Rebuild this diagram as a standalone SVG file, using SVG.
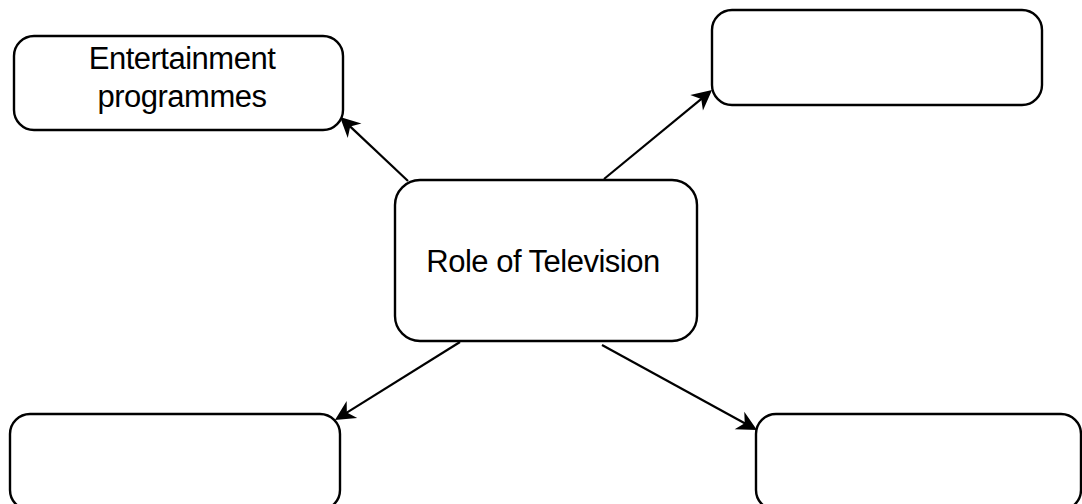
<svg xmlns="http://www.w3.org/2000/svg" width="1082" height="504" viewBox="0 0 1082 504">
<style>
.box{fill:#fff;stroke:#000;stroke-width:2.4}
.lbl{font-family:"Liberation Sans",Arial,sans-serif;font-size:31px;letter-spacing:-0.5px;fill:#000;text-anchor:middle}
.edge{stroke:#000;stroke-width:2.2;fill:none}
</style>
<defs>
<marker id="arr" markerUnits="userSpaceOnUse" markerWidth="26" markerHeight="26" refX="7" refY="10" orient="auto" overflow="visible">
<path d="M20,10 L0,0 L6,10 L0,20 Z" fill="#000"/>
</marker>
</defs>
<g id="connectors">
<line class="edge" x1="408" y1="181" x2="349.5" y2="125.9" marker-end="url(#arr)"/>
<line class="edge" x1="604" y1="179" x2="702" y2="98.3" marker-end="url(#arr)"/>
<line class="edge" x1="460" y1="342" x2="346" y2="413.1" marker-end="url(#arr)"/>
<line class="edge" x1="602" y1="345" x2="745.6" y2="423.8" marker-end="url(#arr)"/>
</g>
<g id="node-entertainment">
<rect class="box" x="14" y="36" width="329" height="94" rx="20" ry="20"/>
<text class="lbl" x="182" y="69">Entertainment</text>
<text class="lbl" x="182" y="107">programmes</text>
</g>
<g id="node-top-right">
<rect class="box" x="712" y="10" width="330" height="95" rx="20" ry="20"/>
</g>
<g id="node-center">
<rect class="box" x="395" y="180" width="302" height="161" rx="25" ry="25"/>
<text class="lbl" x="543" y="272">Role of Television</text>
</g>
<g id="node-bottom-left">
<rect class="box" x="10" y="414" width="330" height="96" rx="20" ry="20"/>
</g>
<g id="node-bottom-right">
<rect class="box" x="756" y="414" width="325" height="96" rx="20" ry="20"/>
</g>
</svg>
